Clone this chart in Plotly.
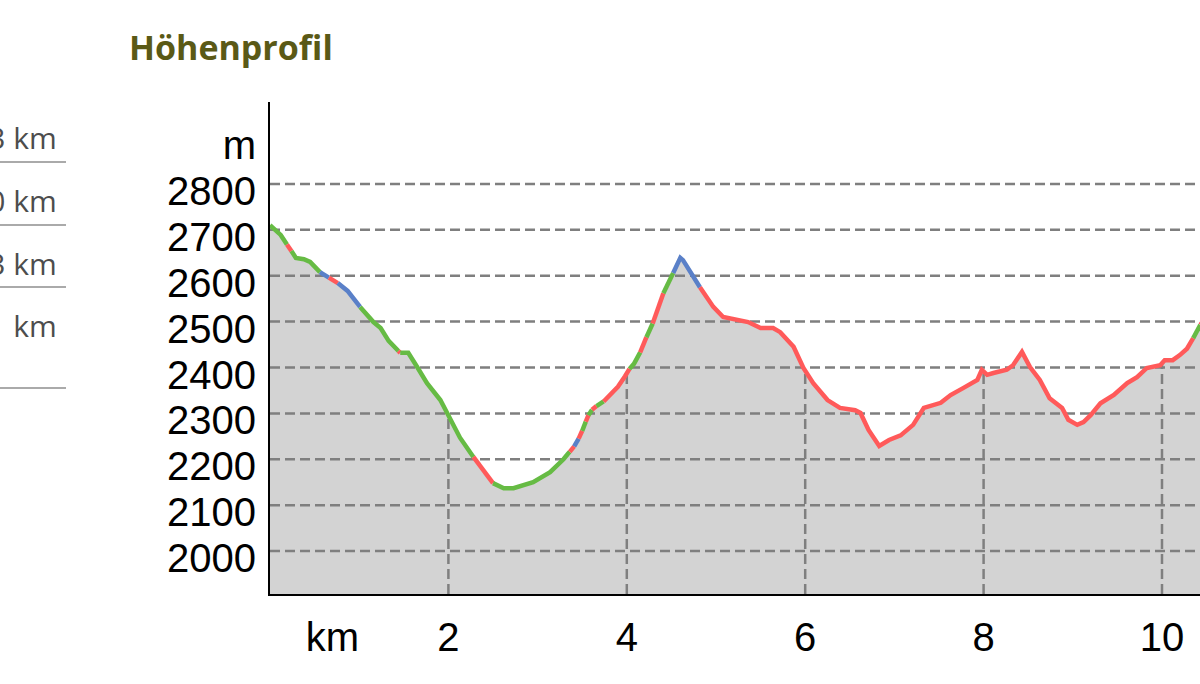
import plotly.graph_objects as go
import numpy as np

# ---------------- data ----------------
dist_km = [0.00, 0.12, 0.19, 0.24, 0.29, 0.38, 0.45, 0.56, 0.62, 0.66, 0.76, 0.87, 1.01, 1.16, 1.24,
           1.33, 1.44, 1.46, 1.55, 1.65, 1.76, 1.91, 2.00, 2.09, 2.13, 2.28, 2.50, 2.62, 2.73, 2.95,
           3.14, 3.25, 3.29, 3.34, 3.36, 3.41, 3.46, 3.50, 3.54, 3.57, 3.61, 3.66, 3.74, 3.84, 3.90,
           3.98, 4.03, 4.08, 4.15, 4.22, 4.27, 4.29, 4.41, 4.52, 4.57, 4.60, 4.63, 4.82, 4.97, 5.08,
           5.27, 5.36, 5.50, 5.64, 5.72, 5.87, 5.98, 6.09, 6.25, 6.39, 6.56, 6.62, 6.71, 6.83, 6.94,
           7.07, 7.21, 7.33, 7.52, 7.63, 7.77, 7.93, 7.98, 8.04, 8.11, 8.26, 8.33, 8.43, 8.52, 8.63,
           8.74, 8.88, 8.95, 9.05, 9.12, 9.20, 9.31, 9.46, 9.61, 9.72, 9.83, 9.98, 10.03, 10.12, 10.20,
           10.24, 10.28, 10.35, 10.43, 10.50]
elev_m = [2710, 2689, 2668, 2654, 2639, 2636, 2630, 2608, 2600, 2596, 2584, 2567, 2532, 2499, 2486,
          2458, 2436, 2432, 2432, 2401, 2366, 2329, 2296, 2258, 2247, 2205, 2148, 2137, 2137, 2150,
          2172, 2192, 2200, 2212, 2216, 2228, 2245, 2262, 2282, 2296, 2308, 2316, 2326, 2346, 2358,
          2381, 2397, 2408, 2433, 2466, 2488, 2496, 2562, 2606, 2630, 2639, 2634, 2575, 2532, 2510,
          2504, 2499, 2486, 2486, 2477, 2445, 2399, 2366, 2329, 2312, 2307, 2301, 2264, 2229, 2242,
          2252, 2275, 2312, 2323, 2340, 2355, 2373, 2395, 2384, 2388, 2395, 2405, 2434, 2401, 2373,
          2333, 2312, 2286, 2275, 2281, 2296, 2322, 2340, 2366, 2379, 2399, 2405, 2416, 2416, 2427,
          2434, 2441, 2464, 2493, 2512]
# surface class of the segment that starts at each point (g / r / b)
seg_class = list("ggrggggbbrbbgggg" "rggggggggrggggggggrbrgrgrgrrrrggrggrgbbbb"
                 "rrrrrrrrrrrrrrrrrrrrrrrrrrrrrrrrrrrrrrrrrrrrrrrrrr" "grrrr")

y_ticks = [2000, 2100, 2200, 2300, 2400, 2500, 2600, 2700, 2800]
x_ticks = [2, 4, 6, 8, 10]
y_unit, y_unit_pos = "m", 2900
x_unit, x_unit_pos = "km", 0.7

title_text = "Höhenprofil"
side_values = ["13.3 km", "10.0 km", "12.3 km", "11.1 km"]

class_colors = {"g": "#66bb44", "r": "#ff5a5a", "b": "#5a80c8"}

x_range = [0, 10.426]
y_range = [1906.3, 2978.7]

# ---------------- figure ----------------
fig = go.Figure()

# grey area under the profile
fig.add_trace(go.Scatter(x=dist_km, y=elev_m, mode="lines", line=dict(width=0),
                         fill="tozeroy", fillcolor="#d3d3d3", hoverinfo="skip", showlegend=False))

grid_col = "#7f7f7f"
# horizontal dashed grid lines (over the area)
for yv in y_ticks:
    fig.add_trace(go.Scatter(x=x_range, y=[yv, yv], mode="lines",
                             line=dict(color=grid_col, width=2.5, dash="10px,5px"),
                             hoverinfo="skip", showlegend=False))
# vertical dashed grid lines only below the profile
for xv in x_ticks:
    top = float(np.interp(xv, dist_km, elev_m))
    fig.add_trace(go.Scatter(x=[xv, xv], y=[y_range[0], top], mode="lines",
                             line=dict(color=grid_col, width=2.5, dash="10px,5px"),
                             hoverinfo="skip", showlegend=False))

# coloured profile line, grouped in runs of equal class
n = len(dist_km)
i = 0
while i < n - 1:
    c = seg_class[i]
    j = i
    while j < n - 1 and seg_class[j] == c:
        j += 1
    fig.add_trace(go.Scatter(x=dist_km[i:j + 1], y=elev_m[i:j + 1], mode="lines",
                             line=dict(color=class_colors[c], width=4.5),
                             hoverinfo="skip", showlegend=False))
    i = j

fig.update_layout(
    width=1200, height=684,
    margin=dict(l=270, r=0, t=102, b=90, autoexpand=False),
    plot_bgcolor="white", paper_bgcolor="white",
    font=dict(family="Liberation Sans, Arial", size=40, color="black"),
    xaxis=dict(range=x_range, showgrid=False, zeroline=False,
               showline=True, linecolor="black", linewidth=2,
               tickvals=[x_unit_pos] + x_ticks, ticktext=[x_unit] + [str(v) for v in x_ticks],
               ticks="outside", ticklen=7, tickcolor="rgba(0,0,0,0)",
               tickfont=dict(family="Liberation Sans, Arial", size=40, color="black")),
    yaxis=dict(range=y_range, showgrid=False, zeroline=False,
               showline=True, linecolor="black", linewidth=2,
               tickvals=y_ticks + [y_unit_pos], ticktext=[str(v) for v in y_ticks] + [y_unit],
               ticks="outside", ticklen=4, tickcolor="rgba(0,0,0,0)",
               ticklabelshift=7,
               tickfont=dict(family="Liberation Sans, Arial", size=40, color="black")),
)

# title
fig.add_annotation(text=title_text, xref="paper", yref="paper",
                   x=(127 - 270) / 930, y=(594 - 47) / 492, xanchor="left", yanchor="middle",
                   showarrow=False,
                   font=dict(family="Open Sans", size=34, color="#5a5916", weight=700))

# side table (partially outside the page on the left)
row_centers = [138, 200, 263, 325]
row_lines = [162, 225, 287, 388]
for txt, yc in zip(side_values, row_centers):
    fig.add_annotation(text=txt, xref="paper", yref="paper",
                       x=(59 - 270) / 930, y=(594 - yc) / 492, xanchor="right", yanchor="middle",
                       showarrow=False, font=dict(family="Open Sans", size=30, color="#4d4d4d"))
for yl in row_lines:
    fig.add_shape(type="line", xref="paper", yref="paper",
                  x0=-270 / 930, x1=(66 - 270) / 930, y0=(594 - yl) / 492, y1=(594 - yl) / 492,
                  line=dict(color="#aaaaaa", width=2))

# remove the default page margin so the figure fills the 1200x684 window exactly
fig.write_html("out.html",
               config={"displayModeBar": False},
               post_script="document.body.style.margin='0';document.body.style.overflow='hidden';")
